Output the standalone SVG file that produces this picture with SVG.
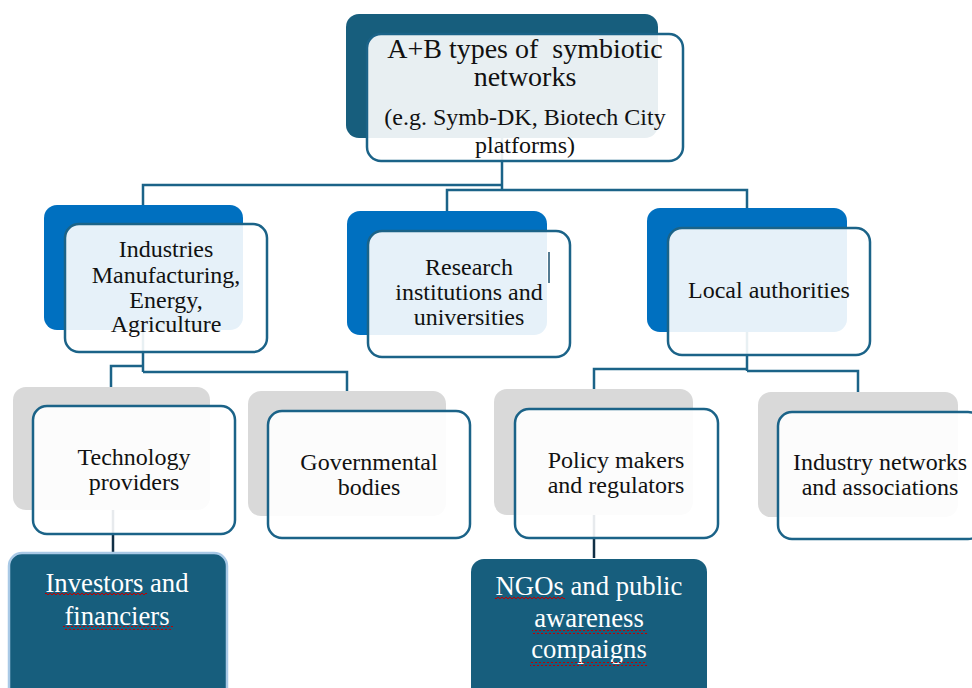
<svg xmlns="http://www.w3.org/2000/svg" width="972" height="688" viewBox="0 0 972 688" font-family="'Liberation Serif', 'Times New Roman', 'DejaVu Serif', serif">
<defs>
<style>
.bk-teal{fill:#175E7D}
.bk-blue{fill:#0070C0}
.bk-grey{fill:#D9D9D9}
.front{fill:#FFFFFF;fill-opacity:0.9;stroke:#1B6388;stroke-width:2.5}
.dark{fill:#175E7D}
.conn{fill:none;stroke:#1B6388;stroke-width:2.5}
.conn-dk{fill:none;stroke:#102F45;stroke-width:2.5}
.t{fill:#111111;text-anchor:middle;font-size:24px}
.tw{fill:#FFFFFF;text-anchor:middle;font-size:26.7px}
.sq{fill:url(#wavy)}
</style>
<pattern id="wavy" x="0" y="0" width="4" height="4" patternUnits="userSpaceOnUse">
<polyline points="0,3 2,1 4,3" fill="none" stroke="#C00000" stroke-width="1"/>
</pattern>
</defs>

<g id="connectors">
<polyline class="conn" points="502,138 502,190"/>
<polyline class="conn" points="502,185 143,185 143,206"/>
<polyline class="conn" points="502,190 447,190 447,212"/>
<polyline class="conn" points="502,190 747,190 747,208"/>
<polyline class="conn" points="143,330 143,372"/>
<polyline class="conn" points="143,366 111,366 111,388"/>
<polyline class="conn" points="143,372 347,372 347,392"/>
<polyline class="conn" points="747,332 747,371"/>
<polyline class="conn" points="747,369 594,369 594,390"/>
<polyline class="conn" points="747,371 858,371 858,393"/>
<polyline class="conn-dk" points="113,510 113,554"/>
<polyline class="conn-dk" points="594,515 594,558"/>
</g>

<g id="node-top">
<rect class="bk-teal" x="346" y="14" width="312" height="124" rx="13"/>
<rect class="front" x="367" y="34" width="316" height="127" rx="14"/>
<text class="t" style="font-size:28px" x="525" y="58" xml:space="preserve">A+B types of  symbiotic</text>
<text class="t" style="font-size:28px" x="525" y="86">networks</text>
<text class="t" x="525" y="125">(e.g. Symb-DK, Biotech City</text>
<text class="t" x="525" y="153">platforms)</text>
</g>

<g id="node-industries">
<rect class="bk-blue" x="44" y="205" width="199" height="125" rx="13"/>
<rect class="front" x="65" y="224" width="202" height="128" rx="14"/>
<text class="t" x="166" y="257">Industries</text>
<text class="t" x="166" y="283">Manufacturing,</text>
<text class="t" x="166" y="308">Energy,</text>
<text class="t" x="166" y="332">Agriculture</text>
</g>

<g id="node-research">
<rect class="bk-blue" x="347" y="211" width="200" height="124" rx="13"/>
<rect class="front" x="368" y="231" width="202" height="126" rx="14"/>
<line x1="549" y1="252" x2="549" y2="283" stroke="#1B4F6E" stroke-width="1.5"/>
<text class="t" x="469" y="275">Research</text>
<text class="t" x="469" y="300">institutions and</text>
<text class="t" x="469" y="325">universities</text>
</g>

<g id="node-local">
<rect class="bk-blue" x="647" y="208" width="200" height="124" rx="13"/>
<rect class="front" x="668" y="228" width="202" height="127" rx="14"/>
<text class="t" x="769" y="298">Local authorities</text>
</g>

<g id="node-technology">
<rect class="bk-grey" x="13" y="387" width="197" height="123" rx="13"/>
<rect class="front" x="33" y="406" width="202" height="128" rx="14"/>
<text class="t" x="134" y="465">Technology</text>
<text class="t" x="134" y="490">providers</text>
</g>

<g id="node-governmental">
<rect class="bk-grey" x="248" y="391" width="198" height="125" rx="13"/>
<rect class="front" x="268" y="411" width="202" height="127" rx="14"/>
<text class="t" x="369" y="470">Governmental</text>
<text class="t" x="369" y="495">bodies</text>
</g>

<g id="node-policy">
<rect class="bk-grey" x="494" y="389" width="199" height="126" rx="13"/>
<rect class="front" x="515" y="409" width="203" height="129" rx="14"/>
<text class="t" x="616" y="468">Policy makers</text>
<text class="t" x="616" y="493">and regulators</text>
</g>

<g id="node-industry-networks">
<rect class="bk-grey" x="758" y="392" width="200" height="125" rx="13"/>
<rect class="front" x="778" y="412" width="204" height="127" rx="14"/>
<text class="t" x="880" y="470">Industry networks</text>
<text class="t" x="880" y="495">and associations</text>
</g>

<g id="node-investors">
<rect x="9" y="553" width="218" height="150" rx="13" fill="#175E7D" stroke="#A9C9E6" stroke-width="2.5"/>
<text class="tw" x="117" y="592">Investors and</text>
<text class="tw" x="117" y="625">financiers</text>
<rect class="sq" x="45" y="592" width="102" height="4"/>
<rect class="sq" x="63" y="626" width="110" height="4"/>
</g>

<g id="node-ngos">
<rect class="dark" x="471" y="559" width="236" height="150" rx="13"/>
<text class="tw" x="589" y="595">NGOs and public</text>
<text class="tw" x="589" y="627">awareness</text>
<text class="tw" x="589" y="658">compaigns</text>
<rect class="sq" x="495" y="597" width="70" height="4"/>
<rect class="sq" x="532" y="630" width="115" height="4"/>
<rect class="sq" x="530" y="662" width="117" height="4"/>
</g>
</svg>
